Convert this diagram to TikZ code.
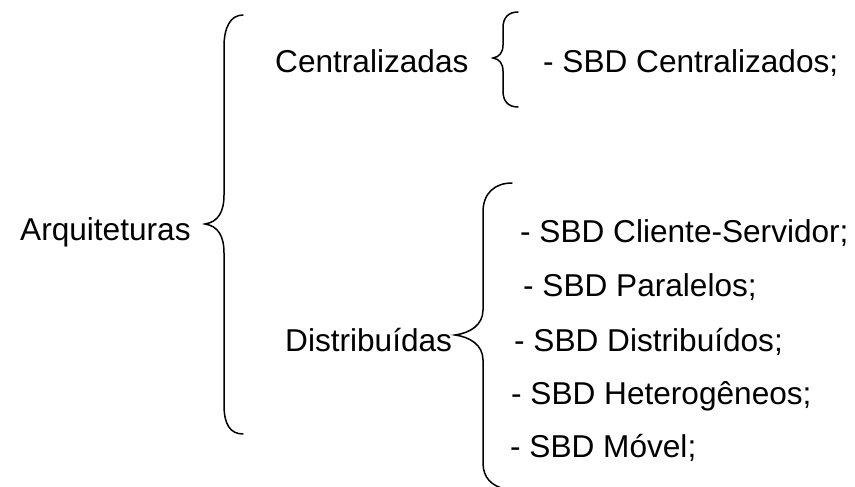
\documentclass[tikz,border=0pt]{standalone}
\usepackage{fontspec}
\setmainfont{Liberation Sans}
\begin{document}
\begin{tikzpicture}[x=1pt,y=-1pt,
  lbl/.style={anchor=base west,inner sep=0pt,font=\fontsize{31.6}{38}\selectfont},
  brace/.style={draw=black,line width=1.5pt,line cap=round}]
\clip (0,0) rectangle (855,487);
\useasboundingbox (0,0) rectangle (855,487);

% labels
\node[lbl] (arq) at (20,240) {Arquiteturas};
\node[lbl] (cen) at (275,73) {Centralizadas};
\node[lbl] (dis) at (285,351) {Distribuídas};
\node[lbl] (c1) at (543,73) {- SBD Centralizados;};
\node[lbl] (d1) at (520,242) {- SBD Cliente-Servidor;};
\node[lbl] (d2) at (523,296) {- SBD Paralelos;};
\node[lbl] (d3) at (514,351) {- SBD Distribuídos;};
\node[lbl] (d4) at (511,404) {- SBD Heterogêneos;};
\node[lbl] (d5) at (510,457) {- SBD Móvel;};

% main brace
\draw[brace] (243,15) .. controls (230,15) and (224,28) .. (224,47)
  -- (224,195) .. controls (224,212) and (218,222) .. (205,224)
  .. controls (218,226) and (224,236) .. (224,253)
  -- (224,405) .. controls (224,424) and (230,434) .. (243,434);

% brace after Centralizadas
\draw[brace] (518,12) .. controls (508,12) and (503,18) .. (503,28)
  -- (503,45) .. controls (503,53) and (499,57) .. (493,58)
  .. controls (499,59) and (503,63) .. (503,71)
  -- (503,91) .. controls (503,101) and (508,107) .. (518,107);

% brace after Distribuidas
\draw[brace] (512,183) .. controls (495,183) and (483,193) .. (483,212)
  -- (483,310) .. controls (483,325) and (470,333) .. (455,335)
  .. controls (470,337) and (483,345) .. (483,360)
  -- (483,463) .. controls (483,478) and (492,486) .. (505,489);
\end{tikzpicture}
\end{document}
